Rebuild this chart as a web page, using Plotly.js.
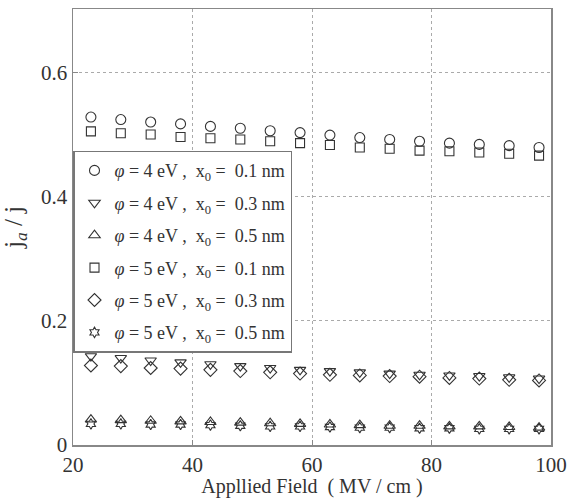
<!DOCTYPE html>
<html><head><meta charset="utf-8">
<script src="https://cdn.plot.ly/plotly-3.0.1.min.js"></script>
<style>body{margin:0}#c{width:568px;height:498px}</style>
</head><body><div id="c"></div>
<script>
const field = [23,28,33,38,43,48,53,58,63,68,73,78,83,88,93,98];
const phi4_x01 = [0.528,0.524,0.520,0.517,0.513,0.510,0.506,0.503,0.499,0.495,0.492,0.489,0.486,0.484,0.482,0.479];
const phi4_x03 = [0.143,0.140,0.136,0.133,0.130,0.127,0.124,0.121,0.119,0.117,0.115,0.113,0.112,0.111,0.109,0.107];
const phi4_x05 = [0.041,0.040,0.039,0.038,0.037,0.036,0.035,0.034,0.033,0.032,0.031,0.031,0.030,0.030,0.029,0.028];
const phi5_x01 = [0.505,0.502,0.500,0.496,0.494,0.492,0.489,0.486,0.483,0.479,0.477,0.474,0.473,0.471,0.469,0.466];
const phi5_x03 = [0.128,0.127,0.124,0.123,0.121,0.119,0.117,0.115,0.113,0.112,0.111,0.110,0.108,0.107,0.105,0.104];
const phi5_x05 = [0.034,0.034,0.033,0.033,0.032,0.031,0.030,0.030,0.029,0.028,0.028,0.027,0.027,0.026,0.026,0.026];
const names = [
 "<i>φ</i> = 4 eV ,  x<sub>0</sub> =  0.1 nm",
 "<i>φ</i> = 4 eV ,  x<sub>0</sub> =  0.3 nm",
 "<i>φ</i> = 4 eV ,  x<sub>0</sub> =  0.5 nm",
 "<i>φ</i> = 5 eV ,  x<sub>0</sub> =  0.1 nm",
 "<i>φ</i> = 5 eV ,  x<sub>0</sub> =  0.3 nm",
 "<i>φ</i> = 5 eV ,  x<sub>0</sub> =  0.5 nm"];
const series = [phi4_x01, phi4_x03, phi4_x05, phi5_x01, phi5_x03, phi5_x05];
const symbols = ["circle-open","triangle-down-open","triangle-up-open","square-open","diamond-open","hexagram-open"];
const sizes = [10,10,10,9,10,8];
const col = "#333";
const traces = series.map((s,i)=>({
  x: field, y: s, type:"scatter", mode:"markers", name: names[i], legendgroup:"g"+i,
  marker:{symbol:symbols[i], size:sizes[i], color:col, line:{width:1.1, color:col}}
}));
const serif = "Liberation Serif";
const layout = {
  width:568, height:498,
  margin:{l:73, r:17, t:9, b:53},
  paper_bgcolor:"#fff", plot_bgcolor:"#fff",
  font:{family:serif, color:"#333", size:19},
  showlegend:true,
  legend:{x:0, xanchor:"left", y:0.675, yanchor:"top", bgcolor:"#fff",
    bordercolor:"#777", borderwidth:1.5, font:{family:serif, size:18, color:"#333"},
    tracegroupgap:6, itemwidth:30},
  xaxis:{range:[20,100], tickvals:[20,40,60,80,100], ticks:"inside", ticklen:5, tickcolor:"#888",
    ticklabeloverflow:"allow",
    showgrid:true, gridcolor:"#aaa", griddash:"dot", gridwidth:1,
    showline:true, linecolor:"#888", linewidth:1.5, mirror:true, zeroline:false,
    tickfont:{family:serif, size:21, color:"#333"},
    title:{text:"Appllied Field  ( MV / cm )", font:{family:serif, size:20, color:"#333"}, standoff:0}},
  yaxis:{range:[0,0.702], tickvals:[0,0.2,0.4,0.6], ticktext:["0","0.2","0.4","0.6"], ticks:"inside", ticklen:5, tickcolor:"#888",
    showgrid:true, gridcolor:"#aaa", griddash:"dot", gridwidth:1,
    showline:true, linecolor:"#888", linewidth:1.5, mirror:true, zeroline:false,
    tickfont:{family:serif, size:21, color:"#333"},
    title:{text:"j<sub><i>a</i></sub> / j", font:{family:serif, size:25, color:"#333"}, standoff:12}}
};
Plotly.newPlot("c", traces, layout, {staticPlot:true});
</script></body></html>
